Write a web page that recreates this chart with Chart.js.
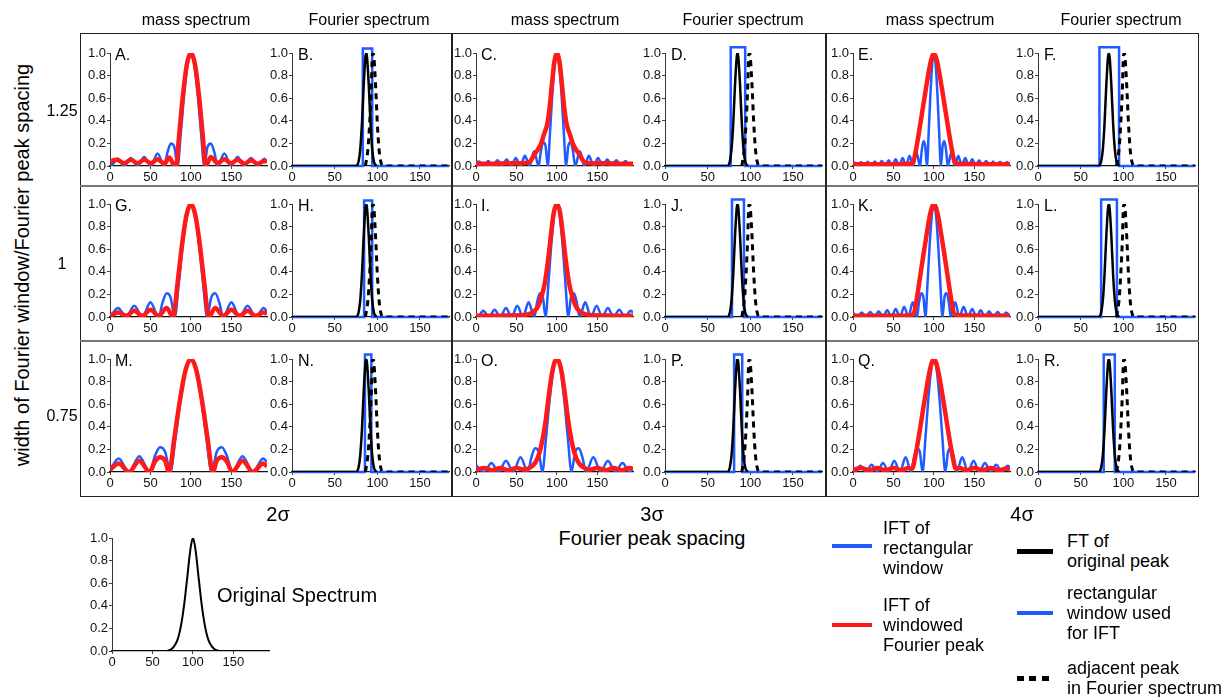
<!DOCTYPE html>
<html>
<head>
<meta charset="utf-8">
<script src="https://cdn.jsdelivr.net/npm/chart.js@4.4.0/dist/chart.umd.min.js"></script>
<style>
body { margin:0; width:1224px; height:697px; background:#fff; position:relative; overflow:hidden;
       font-family:"Liberation Sans", Arial, sans-serif; color:#000; }
.t { position:absolute; white-space:nowrap; line-height:1; }
.c { transform:translate(-50%,-50%); }
.lg { position:absolute; white-space:nowrap; font-size:18px; line-height:20px; }
.ln { position:absolute; }
.panel { position:absolute; }
</style>
</head>
<body>

<!-- frame -->
<div class="ln" style="left:80px;top:33px;width:1119px;height:464px;border:1.5px solid #222;box-sizing:border-box"></div>
<div class="ln" style="left:80px;top:185px;width:1119px;height:2px;background:#777"></div>
<div class="ln" style="left:80px;top:340px;width:1119px;height:2px;background:#777"></div>
<div class="ln" style="left:451px;top:33px;width:1.5px;height:464px;background:#222"></div>
<div class="ln" style="left:825px;top:33px;width:1.5px;height:464px;background:#222"></div>

<script>
// tick labels and categories
const xTicks = [0, 50, 100, 150];
const yTicks = [0, 0.2, 0.4, 0.6, 0.8, 1.0];
const rowLabels = ['1.25', '1', '0.75'];
const spacingLabels = ['2σ', '3σ', '4σ'];
const headers = ['mass spectrum', 'Fourier spectrum'];

// mass spectrum panels: IFT of rectangular window (blue), IFT of windowed Fourier peak (red)
const blueA = [[0,0.01],[1,0],[9.25,0.065],[17.5,0],[25.75,0.07],[34,0],[42.25,0.08],[50.5,0],[58.75,0.11],[67,0],[71,0.12],[75.25,0.2],[79.5,0.17],[83.5,0],[87.6,0.3],[91.75,0.64],[95.9,0.9],[100,1],[104.1,0.9],[108.25,0.64],[112.4,0.3],[116.5,0],[120.5,0.17],[124.75,0.2],[129,0.12],[133,0],[141.25,0.11],[149.5,0],[157.75,0.08],[166,0],[174.25,0.07],[182.5,0],[190.75,0.065],[194,0.04]];
const redA = [[0,0.03],[4,0.05],[9,0.055],[13,0.04],[17.5,0.025],[25.75,0.055],[34,0.025],[42.25,0.055],[50.5,0.025],[58.75,0.06],[67,0.02],[73,0.075],[78,0.02],[81.5,0],[85.5,0.28],[90,0.62],[95,0.9],[100,1],[105,0.9],[110,0.62],[114.5,0.28],[118.5,0],[122,0.05],[124.75,0.08],[129,0.05],[133,0.025],[141.25,0.06],[149.5,0.025],[157.75,0.055],[166,0.02],[174.25,0.05],[182.5,0.02],[190.75,0.045],[194,0.035]];

const blueG = [[0,0],[10,0.08],[20,0],[30,0.1],[40,0],[50,0.13],[60,0],[65,0.13],[70,0.21],[75,0.17],[80,0],[85,0.3],[90,0.64],[95,0.9],[100,1],[105,0.9],[110,0.64],[115,0.3],[120,0],[125,0.17],[130,0.21],[135,0.13],[140,0],[150,0.13],[160,0],[170,0.1],[180,0],[190,0.08],[194,0.05]];
const redG = [[0,0.01],[10,0.04],[20,0.01],[30,0.055],[40,0.01],[50,0.065],[60,0.01],[70,0.08],[78,0],[83.5,0.3],[89,0.64],[94.5,0.9],[100,1],[105.5,0.9],[111,0.64],[116.5,0.3],[122,0],[130,0.08],[140,0.01],[150,0.065],[160,0.01],[170,0.055],[180,0.01],[190,0.04],[194,0.03]];

const blueM = [[0,0.02],[10.75,0.12],[23.5,0],[36.25,0.14],[49,0],[55.4,0.14],[61.75,0.22],[68.1,0.18],[74.5,0],[80.9,0.3],[87.25,0.64],[93.6,0.9],[100,1],[106.4,0.9],[112.75,0.64],[119.1,0.3],[125.5,0],[131.9,0.18],[138.25,0.22],[144.6,0.14],[151,0],[163.75,0.14],[176.5,0],[189.25,0.12],[194,0.09]];
const redM = [[0,0.02],[10.75,0.075],[23.5,0],[36.25,0.1],[49,0],[55.4,0.09],[61.75,0.13],[68.1,0.1],[73,0],[79.5,0.3],[86.5,0.64],[93.3,0.9],[100,1],[106.7,0.9],[113.5,0.64],[120.5,0.3],[127,0],[131.9,0.1],[138.25,0.13],[144.6,0.09],[151,0],[163.75,0.1],[176.5,0],[189.25,0.075],[194,0.05]];

const blueC = [[0,0.03],[3.95,0.04],[9.6,0],[15.25,0.045],[20.9,0],[26.55,0.05],[32.2,0],[37.85,0.058],[43.5,0],[49.15,0.07],[54.8,0],[60.45,0.09],[66.1,0],[71.75,0.13],[77.4,0],[80.2,0.13],[83.05,0.21],[85.9,0.18],[88.7,0],[91.5,0.3],[94.35,0.64],[97.2,0.9],[100,1],[102.8,0.9],[105.65,0.64],[108.5,0.3],[111.3,0],[114.1,0.18],[116.95,0.21],[119.8,0.13],[122.6,0],[128.25,0.13],[133.9,0],[139.55,0.09],[145.2,0],[150.85,0.07],[156.5,0],[162.15,0.058],[167.8,0],[173.45,0.05],[179.1,0],[184.75,0.045],[190.4,0],[194,0.03]];
const redC = [[0,0.02],[20,0.02],[40,0.025],[58,0.025],[66,0.035],[72,0.1],[76,0.14],[80.5,0.2],[84,0.28],[88,0.37],[91,0.52],[94,0.74],[97,0.93],[100,1],[103,0.93],[106,0.74],[109,0.52],[112,0.37],[116,0.28],[119.5,0.2],[124,0.14],[128,0.1],[134,0.035],[142,0.025],[160,0.025],[180,0.02],[194,0.02]];

const blueI = [[0,0.01],[2,0],[9,0.055],[16,0],[23,0.065],[30,0],[37,0.08],[44,0],[51,0.1],[58,0],[65,0.13],[72,0],[75.5,0.13],[79,0.21],[82.5,0.18],[86,0],[89.5,0.3],[93,0.64],[96.5,0.9],[100,1],[103.5,0.9],[107,0.64],[110.5,0.3],[114,0],[117.5,0.18],[121,0.21],[124.5,0.13],[128,0],[135,0.13],[142,0],[149,0.1],[156,0],[163,0.08],[170,0],[177,0.065],[184,0],[191,0.055],[194,0.04]];
const redI = [[0,0.01],[30,0.012],[55,0.015],[65,0.025],[72,0.05],[77,0.1],[81,0.18],[85,0.3],[89,0.5],[93,0.75],[96,0.92],[100,1],[104,0.92],[107,0.75],[111,0.5],[115,0.3],[119,0.18],[123,0.1],[128,0.05],[135,0.025],[145,0.015],[170,0.012],[194,0.01]];

const blueO = [[0,0.06],[10,0],[19,0.08],[28,0],[37,0.1],[46,0],[55,0.13],[64,0],[68.5,0.13],[73,0.21],[77.5,0.18],[82,0],[86.5,0.3],[91,0.64],[95.5,0.9],[100,1],[104.5,0.9],[109,0.64],[113.5,0.3],[118,0],[122.5,0.18],[127,0.21],[131.5,0.13],[136,0],[145,0.13],[154,0],[163,0.1],[172,0],[181,0.08],[190,0],[194,0.03]];
const redO = [[0,0.02],[10,0.035],[20,0.015],[30,0.035],[40,0.015],[50,0.035],[60,0.02],[67,0.04],[73,0.08],[78,0.16],[82,0.28],[86,0.45],[90,0.68],[94,0.88],[97,0.97],[100,1],[103,0.97],[106,0.88],[110,0.68],[114,0.45],[118,0.28],[122,0.16],[127,0.08],[133,0.04],[140,0.02],[150,0.035],[160,0.015],[170,0.035],[180,0.015],[190,0.035],[194,0.03]];

const blueE = [[0,0.03],[1.1,0.033],[5.4,0],[9.7,0.035],[14,0],[18.3,0.038],[22.6,0],[26.9,0.04],[31.2,0],[35.5,0.045],[39.8,0],[44.1,0.05],[48.4,0],[52.7,0.06],[57,0],[61.3,0.07],[65.6,0],[69.9,0.09],[74.2,0],[78.5,0.12],[82.8,0],[85,0.14],[87.1,0.22],[89.2,0.18],[91.4,0],[93.55,0.3],[95.7,0.64],[97.85,0.9],[100,1],[102.15,0.9],[104.3,0.64],[106.45,0.3],[108.6,0],[110.8,0.18],[112.9,0.22],[115,0.14],[117.2,0],[121.5,0.12],[125.8,0],[130.1,0.09],[134.4,0],[138.7,0.07],[143,0],[147.3,0.06],[151.6,0],[155.9,0.05],[160.2,0],[164.5,0.045],[168.8,0],[173.1,0.04],[177.4,0],[181.7,0.038],[186,0],[190.3,0.035],[194,0.005]];
const redE = [[0,0.015],[60,0.015],[70,0.02],[74,0.03],[78,0.15],[82,0.32],[86,0.5],[90,0.68],[94,0.85],[97,0.95],[100,1],[103,0.95],[106,0.85],[110,0.68],[114,0.5],[118,0.32],[122,0.15],[126,0.03],[130,0.02],[194,0.015]];

const blueK = [[0,0.037],[5.5,0],[10.75,0.04],[16,0],[21.25,0.045],[26.5,0],[31.75,0.05],[37,0],[42.25,0.06],[47.5,0],[52.75,0.07],[58,0],[63.25,0.09],[68.5,0],[73.75,0.13],[79,0],[81.6,0.13],[84.25,0.21],[86.9,0.18],[89.5,0],[92.1,0.3],[94.75,0.64],[97.4,0.9],[100,1],[102.6,0.9],[105.25,0.64],[107.9,0.3],[110.5,0],[113.1,0.18],[115.75,0.21],[118.4,0.13],[121,0],[126.25,0.13],[131.5,0],[136.75,0.09],[142,0],[147.25,0.07],[152.5,0],[157.75,0.06],[163,0],[168.25,0.05],[173.5,0],[178.75,0.045],[184,0],[189.25,0.04],[194,0.003]];
const redK = [[0,0.01],[60,0.01],[70,0.015],[75,0.03],[79,0.17],[83,0.36],[87,0.55],[91,0.73],[95,0.9],[97.5,0.97],[100,1],[102.5,0.97],[105,0.9],[109,0.73],[113,0.55],[117,0.36],[121,0.17],[125,0.03],[130,0.015],[194,0.01]];

const blueQ = [[0,0.01],[2,0],[9,0.055],[16,0],[23,0.065],[30,0],[37,0.08],[44,0],[51,0.1],[58,0],[65,0.13],[72,0],[75.5,0.13],[79,0.21],[82.5,0.18],[86,0],[89.5,0.3],[93,0.64],[96.5,0.9],[100,1],[103.5,0.9],[107,0.64],[110.5,0.3],[114,0],[117.5,0.18],[121,0.21],[124.5,0.13],[128,0],[135,0.13],[142,0],[149,0.1],[156,0],[163,0.08],[170,0],[177,0.065],[184,0],[191,0.055],[194,0.04]];
const redQ = [[0,0.02],[10,0.035],[20,0.015],[30,0.035],[40,0.015],[50,0.035],[60,0.015],[68,0.035],[73,0.03],[77,0.14],[81,0.3],[85,0.48],[89,0.66],[93,0.83],[97,0.96],[100,1],[103,0.96],[107,0.83],[111,0.66],[115,0.48],[119,0.3],[123,0.14],[127,0.03],[132,0.035],[140,0.015],[150,0.035],[160,0.015],[170,0.035],[180,0.015],[190,0.03],[194,0.02]];

// Fourier spectrum panels: FT of original peak, adjacent peak (dashed), rectangular window
const black2s = [[0,0],[75,0],[78,0.04],[80,0.15],[82,0.38],[84,0.71],[86,0.96],[87,1],[88,0.96],[90,0.71],[92,0.38],[94,0.15],[96,0.04],[99,0]];
const black3s = [[0,0],[73,0],[76,0.04],[78,0.15],[80,0.38],[82,0.71],[84,0.96],[85,1],[86,0.96],[88,0.71],[90,0.38],[92,0.15],[94,0.04],[97,0]];
const black4s = [[0,0],[71,0],[74,0.04],[76,0.15],[78,0.38],[80,0.71],[82,0.96],[83,1],[84,0.96],[86,0.71],[88,0.38],[90,0.15],[92,0.04],[95,0]];
const adj2s = [[86,0],[89,0.15],[91,0.38],[93,0.71],[94,0.96],[95,1],[96,0.96],[98,0.71],[100,0.38],[102,0.15],[104,0.04],[107,0],[184,0]];
const adj3s = [[90,0],[93,0.15],[95,0.38],[97,0.71],[98,0.96],[99,1],[100,0.96],[102,0.71],[104,0.38],[106,0.15],[108,0.04],[111,0],[184,0]];
const adj4s = [[92,0],[95,0.15],[97,0.38],[99,0.71],[100,0.96],[101,1],[102,0.96],[104,0.71],[106,0.38],[108,0.15],[110,0.04],[113,0],[184,0]];

const boxB = [[0,0],[83,0],[83,1.04],[94,1.04],[94,0],[184,0]];
const boxH = [[0,0],[84.5,0],[84.5,1.03],[94,1.03],[94,0],[184,0]];
const boxN = [[0,0],[85.5,0],[85.5,1.04],[93,1.04],[93,0],[184,0]];
const boxD = [[0,0],[77,0],[77,1.05],[94,1.05],[94,0],[184,0]];
const boxJ = [[0,0],[78.5,0],[78.5,1.04],[92.5,1.04],[92.5,0],[184,0]];
const boxP = [[0,0],[81,0],[81,1.04],[90.5,1.04],[90.5,0],[184,0]];
const boxF = [[0,0],[72,0],[72,1.05],[95,1.05],[95,0],[184,0]];
const boxL = [[0,0],[74,0],[74,1.04],[92.5,1.04],[92.5,0],[184,0]];
const boxR = [[0,0],[77,0],[77,1.04],[90,1.04],[90,0],[184,0]];

// original spectrum
const origSpectrum = [[0,0],[66,0],[70,0.006],[74,0.02],[78,0.055],[81,0.1],[84,0.18],[87,0.3],[90,0.46],[93,0.65],[96,0.85],[98,0.95],[100,1],[102,0.95],[104,0.85],[107,0.65],[110,0.46],[113,0.3],[116,0.18],[119,0.1],[122,0.055],[126,0.02],[130,0.006],[134,0],[194,0]];

const FONT = "'Liberation Sans', Arial, sans-serif";
const BLUE = '#1f5cff', RED = '#ff1a1a';
Chart.defaults.font.family = FONT;

const PW = 157, PH = 113, PADL = 34, PADT = 10, PADR = 8, PADB = 24;
const rowTops = [53, 204, 359];
const massLeft = [110, 476, 853];
const fourLeft = [292, 665, 1038];

function pts(a) { return a.map(p => ({ x: p[0], y: p[1] })); }

function xAxis(max) {
  return {
    type: 'linear', min: 0, max: max,
    afterBuildTicks: s => { s.ticks = xTicks.map(v => ({ value: v })); },
    afterFit: s => { s.height = PADB; },
    border: { display: true, color: '#111', width: 1.2 },
    grid: { display: true, drawOnChartArea: false, drawTicks: true, tickLength: 3, color: '#444' },
    ticks: { color: '#111', font: { size: 13 }, padding: 1, maxRotation: 0, autoSkip: false }
  };
}
function yAxis() {
  return {
    type: 'linear', min: 0, max: 1,
    afterBuildTicks: s => { s.ticks = yTicks.map(v => ({ value: v })); },
    afterFit: s => { s.width = PADL; },
    border: { display: true, color: '#333', width: 1 },
    grid: { display: true, drawOnChartArea: false, drawTicks: true, tickLength: 3, color: '#444' },
    ticks: { color: '#111', font: { size: 13 }, padding: 1, autoSkip: false, callback: v => v.toFixed(1) }
  };
}

function makeChart(left, top, xmax, datasets) {
  const W = PADL + PW + PADR, H = PADT + PH + PADB;
  const div = document.createElement('div');
  div.className = 'panel';
  div.style.left = (left - PADL) + 'px';
  div.style.top = (top - PADT) + 'px';
  const cv = document.createElement('canvas');
  cv.width = W; cv.height = H;
  div.appendChild(cv);
  document.body.appendChild(div);
  new Chart(cv, {
    type: 'line',
    data: { datasets: datasets },
    options: {
      responsive: false, animation: false, devicePixelRatio: 1,
      layout: { padding: { top: PADT, right: PADR, left: 0, bottom: 0 } },
      elements: { point: { radius: 0 }, line: { cubicInterpolationMode: 'monotone' } },
      plugins: { legend: { display: false }, tooltip: { enabled: false } },
      scales: { x: xAxis(xmax), y: yAxis() }
    }
  });
}

function addText(html, x, y, size, cls) {
  const d = document.createElement('div');
  d.className = 't ' + (cls || '');
  d.style.left = x + 'px'; d.style.top = y + 'px'; d.style.fontSize = size + 'px';
  d.innerHTML = html;
  document.body.appendChild(d);
  return d;
}

const massPanels = [
  ['A.', blueA, redA], ['C.', blueC, redC], ['E.', blueE, redE],
  ['G.', blueG, redG], ['I.', blueI, redI], ['K.', blueK, redK],
  ['M.', blueM, redM], ['O.', blueO, redO], ['Q.', blueQ, redQ]
];
const fourPanels = [
  ['B.', black2s, adj2s, boxB], ['D.', black3s, adj3s, boxD], ['F.', black4s, adj4s, boxF],
  ['H.', black2s, adj2s, boxH], ['J.', black3s, adj3s, boxJ], ['L.', black4s, adj4s, boxL],
  ['N.', black2s, adj2s, boxN], ['P.', black3s, adj3s, boxP], ['R.', black4s, adj4s, boxR]
];

massPanels.forEach((p, i) => {
  const r = Math.floor(i / 3), c = i % 3;
  makeChart(massLeft[c], rowTops[r], 194, [
    { data: pts(p[2]), borderColor: RED, borderWidth: 4.5 },
    { data: pts(p[1]), borderColor: BLUE, borderWidth: 2.5 }
  ]);
  addText(p[0], massLeft[c] + 5, rowTops[r] - 6, 16);
});

fourPanels.forEach((p, i) => {
  const r = Math.floor(i / 3), c = i % 3;
  makeChart(fourLeft[c], rowTops[r], 184, [
    { data: pts(p[2]), borderColor: '#000', borderWidth: 3, borderDash: [6, 5] },
    { data: pts(p[1]), borderColor: '#000', borderWidth: 2.5 },
    { data: pts(p[3]), borderColor: BLUE, borderWidth: 2.5, cubicInterpolationMode: 'default', tension: 0,
      borderJoinStyle: 'miter', clip: false }
  ]);
  addText(p[0], fourLeft[c] + 6, rowTops[r] - 6, 16);
});

// original spectrum
makeChart(112, 538, 194, [
  { data: pts(origSpectrum), borderColor: '#000', borderWidth: 2 }
]);

// headers and axis titles
const headerX = [196, 369, 565, 743, 940, 1121];
headerX.forEach((x, i) => addText(headers[i % 2], x, 20, 16, 'c'));
[111, 264, 416].forEach((y, i) => addText(rowLabels[i], 62, y, 16, 'c'));
[278, 652, 1022].forEach((x, i) => addText(spacingLabels[i], x, 514, 20, 'c'));
addText('Fourier peak spacing', 652, 538, 20, 'c');
const yt = addText('width of Fourier window/Fourier peak spacing', 22, 265, 20);
yt.style.transform = 'translate(-50%,-50%) rotate(-90deg)';
addText('Original Spectrum', 217, 595, 20).style.transform = 'translateY(-50%)';

// legend
function legendText(lines, x, y) {
  const d = document.createElement('div');
  d.className = 'lg';
  d.style.left = x + 'px'; d.style.top = y + 'px';
  d.innerHTML = lines.join('<br>');
  document.body.appendChild(d);
}
function legendLine(x, y, w, h, color) {
  const d = document.createElement('div');
  d.className = 'ln';
  d.style.cssText += `left:${x}px;top:${y - h / 2}px;width:${w}px;height:${h}px;background:${color}`;
  document.body.appendChild(d);
}
legendLine(832, 546, 40, 4, BLUE);
legendText(['IFT of', 'rectangular', 'window'], 883, 518);
legendLine(832, 625, 40, 4, RED);
legendText(['IFT of', 'windowed', 'Fourier peak'], 883, 595);
legendLine(1017, 551, 36, 5, '#000');
legendText(['FT of', 'original peak'], 1067, 531);
legendLine(1017, 613, 36, 4, BLUE);
legendText(['rectangular', 'window used', 'for IFT'], 1067, 583);
[1017, 1029, 1042].forEach(x => legendLine(x, 678, 7, 5, '#000'));
legendText(['adjacent peak', 'in Fourier spectrum'], 1067, 658);
</script>
</body>
</html>
